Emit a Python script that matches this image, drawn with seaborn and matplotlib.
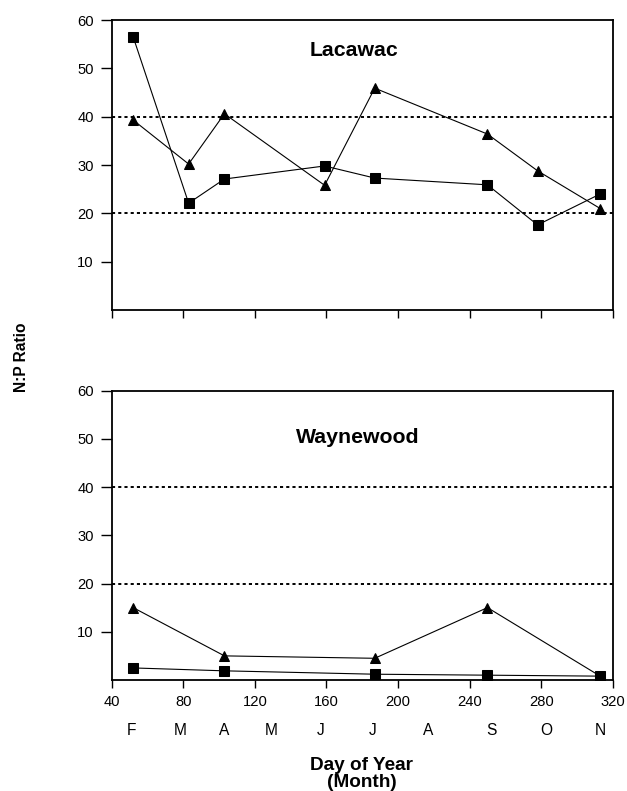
import matplotlib
matplotlib.use("Agg")
import matplotlib.pyplot as plt
import matplotlib.transforms as mtransforms
import seaborn as sns
import pandas as pd

sns.set_style("ticks")
plt.rcParams['font.family'] = ['Liberation Sans', 'DejaVu Sans']
plt.rcParams['text.color'] = 'black'
plt.rcParams['axes.labelcolor'] = 'black'
plt.rcParams['xtick.color'] = 'black'
plt.rcParams['ytick.color'] = 'black'

# ---- data ----
lac_days_sq = [52, 83, 103, 159, 187, 250, 278, 313]
lac_sq = [56.5, 22.1, 27.1, 29.8, 27.3, 25.9, 17.6, 24.0]
lac_days_tri = [52, 83, 103, 159, 187, 250, 278, 313]
lac_tri = [39.3, 30.2, 40.6, 25.8, 45.9, 36.4, 28.8, 21.0]

way_days_sq = [52, 103, 187, 250, 313]
way_sq = [2.5, 1.9, 1.2, 1.0, 0.8]
way_days_tri = [52, 103, 187, 250, 313]
way_tri = [15.0, 5.0, 4.5, 15.0, 0.8]

ref_lines = [20, 40]
xticks = [40, 80, 120, 160, 200, 240, 280, 320]
yticks = [10, 20, 30, 40, 50, 60]
month_labels = ['F', 'M', 'A', 'M', 'J', 'J', 'A', 'S', 'O', 'N']
month_days = [51, 78, 103, 129, 157, 186, 217, 252, 283, 313]

panels = [
    ("Lacawac", lac_days_sq, lac_sq, lac_days_tri, lac_tri, 0.483, 0.894),
    ("Waynewood", way_days_sq, way_sq, way_days_tri, way_tri, 0.492, 0.836),
]

W, H = 627, 791
fig = plt.figure(figsize=(W / 100, H / 100), dpi=100)
left = 111.7 / W
width = (612.7 - 111.7) / W
ax_top = fig.add_axes([left, 1 - 310 / H, width, 290 / H])
ax_bot = fig.add_axes([left, 1 - 680 / H, width, 289.5 / H])

for ax, (name, dsq, vsq, dtri, vtri, tx, ty) in zip([ax_top, ax_bot], panels):
    df_sq = pd.DataFrame({"day": dsq, "ratio": vsq})
    df_tri = pd.DataFrame({"day": dtri, "ratio": vtri})
    for r in ref_lines:
        ax.axhline(r, color='black', lw=1.4, dashes=(1.6, 1.6), zorder=1)
    sns.lineplot(data=df_sq, x="day", y="ratio", ax=ax, color='black', lw=0.8,
                 marker='s', markersize=6.5, markeredgecolor='black', zorder=3)
    sns.lineplot(data=df_tri, x="day", y="ratio", ax=ax, color='black', lw=0.8,
                 marker='^', markersize=7.5, markeredgecolor='black', zorder=3)
    ax.set_xlim(40, 320)
    ax.set_ylim(0, 60)
    ax.set_xticks(xticks)
    ax.set_yticks(yticks)
    ax.set_xlabel("")
    ax.set_ylabel("")
    for s in ax.spines.values():
        s.set_visible(True)
        s.set_linewidth(1.3)
        s.set_color('black')
    ax.tick_params(axis='both', direction='out', width=1.0,
                   color='black', labelsize=10.6, labelcolor='black')
    ax.tick_params(axis='x', length=6, pad=4.5)
    ax.tick_params(axis='y', length=8, pad=5)
    ax.text(tx, ty, name, transform=ax.transAxes, ha='center', va='center',
            fontsize=15.3, fontweight='bold')

ax_top.tick_params(axis='x', labelbottom=False)

trans = mtransforms.blended_transform_factory(ax_bot.transData, ax_bot.transAxes)
for lab, d in zip(month_labels, month_days):
    ax_bot.text(d, -0.173, lab, transform=trans, ha='center', va='center',
                fontsize=11.2)

fig.text(21 / W, 1 - 357 / H, "N:P Ratio", rotation=90, ha='center', va='center',
         fontsize=11.2, fontweight='bold')
fig.text(362 / W, 1 - 774 / H, "Day of Year\n(Month)", ha='center', va='center',
         fontsize=13.7, fontweight='bold', linespacing=0.95)

fig.savefig("out.png", dpi=100)
